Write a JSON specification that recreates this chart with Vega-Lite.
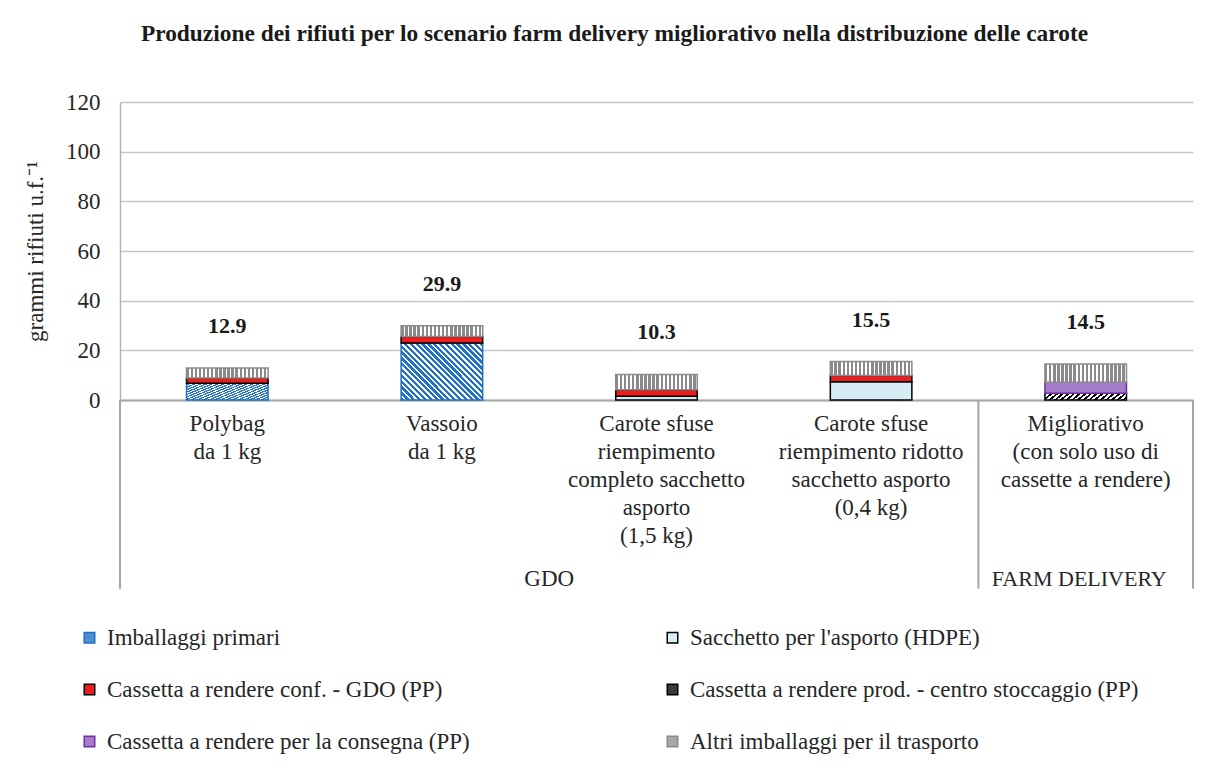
{
  "$schema": "https://vega.github.io/schema/vega-lite/v6.json",
  "width": 1073,
  "height": 298,
  "autosize": "none",
  "padding": {"left": 120, "top": 102, "right": 29, "bottom": 374},
  "background": "white",
  "config": {
    "font": "Liberation Serif",
    "view": {"stroke": null},
    "axis": {"labelFont": "Liberation Serif", "titleFont": "Liberation Serif"},
    "legend": {"labelFont": "Liberation Serif", "titleFont": "Liberation Serif"},
    "text": {"font": "Liberation Serif"},
    "mark": {"font": "Liberation Serif"}
  },
  "title": {
    "text": "Produzione dei rifiuti per lo scenario farm delivery migliorativo nella distribuzione delle carote",
    "fontSize": 23.4, "fontWeight": "bold", "font": "Liberation Serif", "color": "#1a1a1a",
    "anchor": "middle", "frame": "group", "dx": -42, "offset": 27, "baseline": "alphabetic"
  },
  "datasets": {
    "barre": [
      {"scenario": "Polybag|da 1 kg", "componente": "Imballaggi primari", "valore": 6.7},
      {"scenario": "Polybag|da 1 kg", "componente": "Cassetta a rendere conf. - GDO (PP)", "valore": 2.2},
      {"scenario": "Polybag|da 1 kg", "componente": "Altri imballaggi per il trasporto", "valore": 4.0},
      {"scenario": "Vassoio|da 1 kg", "componente": "Imballaggi primari", "valore": 23.0},
      {"scenario": "Vassoio|da 1 kg", "componente": "Cassetta a rendere conf. - GDO (PP)", "valore": 2.6},
      {"scenario": "Vassoio|da 1 kg", "componente": "Altri imballaggi per il trasporto", "valore": 4.3},
      {"scenario": "Carote sfuse|riempimento|completo sacchetto|asporto|(1,5 kg)", "componente": "Sacchetto per l'asporto (HDPE)", "valore": 1.5},
      {"scenario": "Carote sfuse|riempimento|completo sacchetto|asporto|(1,5 kg)", "componente": "Cassetta a rendere conf. - GDO (PP)", "valore": 2.6},
      {"scenario": "Carote sfuse|riempimento|completo sacchetto|asporto|(1,5 kg)", "componente": "Altri imballaggi per il trasporto", "valore": 6.2},
      {"scenario": "Carote sfuse|riempimento ridotto|sacchetto asporto|(0,4 kg)", "componente": "Sacchetto per l'asporto (HDPE)", "valore": 7.3},
      {"scenario": "Carote sfuse|riempimento ridotto|sacchetto asporto|(0,4 kg)", "componente": "Cassetta a rendere conf. - GDO (PP)", "valore": 2.6},
      {"scenario": "Carote sfuse|riempimento ridotto|sacchetto asporto|(0,4 kg)", "componente": "Altri imballaggi per il trasporto", "valore": 5.6},
      {"scenario": "Migliorativo|(con solo uso di|cassette a rendere)", "componente": "Cassetta a rendere prod. - centro  stoccaggio (PP)", "valore": 2.7},
      {"scenario": "Migliorativo|(con solo uso di|cassette a rendere)", "componente": "Cassetta a rendere per la consegna (PP)", "valore": 4.4},
      {"scenario": "Migliorativo|(con solo uso di|cassette a rendere)", "componente": "Altri imballaggi per il trasporto", "valore": 7.4}
    ]
  },
  "layer": [
    {
      "data": {"name": "barre"},
      "mark": {"type": "bar", "width": {"band": 0.38}, "strokeWidth": 1.5},
      "encoding": {
        "x": {"field": "scenario", "type": "nominal", "sort": null, "title": null,
          "scale": {"domain": ["Polybag|da 1 kg", "Vassoio|da 1 kg", "Carote sfuse|riempimento|completo sacchetto|asporto|(1,5 kg)", "Carote sfuse|riempimento ridotto|sacchetto asporto|(0,4 kg)", "Migliorativo|(con solo uso di|cassette a rendere)"], "paddingInner": 0, "paddingOuter": 0},
          "axis": {"labelExpr": "split(datum.label, '|')", "labelAngle": 0, "labelFont": "Liberation Serif", "labelFontSize": 23, "labelLineHeight": 28, "labelPadding": 12, "labelColor": "#262626", "labelLimit": 400, "ticks": false, "domainColor": "#a6a6a6", "domainWidth": 2, "grid": false}},
        "y": {"field": "valore", "type": "quantitative", "stack": "zero", "title": "grammi rifiuti u.f.⁻¹",
          "scale": {"domain": [0, 120], "nice": false},
          "axis": {"values": [0, 20, 40, 60, 80, 100, 120], "ticks": false, "labelFont": "Liberation Serif", "labelFontSize": 23, "labelPadding": 20, "labelColor": "#262626", "grid": true, "gridColor": "#c6c6c6", "gridWidth": 1.5, "domainColor": "#b3b3b3", "domainWidth": 1.5, "titleFont": "Liberation Serif", "titleFontSize": 23, "titleFontWeight": "normal", "titleColor": "#262626", "titlePadding": 18}},
        "order": {"field": "componente", "sort": "descending"},
        "fill": {"field": "componente", "type": "nominal",
          "sort": ["Imballaggi primari", "Cassetta a rendere conf. - GDO (PP)", "Cassetta a rendere per la consegna (PP)", "Sacchetto per l'asporto (HDPE)", "Cassetta a rendere prod. - centro  stoccaggio (PP)", "Altri imballaggi per il trasporto"],
          "scale": {"domain": ["Imballaggi primari", "Cassetta a rendere conf. - GDO (PP)", "Cassetta a rendere per la consegna (PP)", "Sacchetto per l'asporto (HDPE)", "Cassetta a rendere prod. - centro  stoccaggio (PP)", "Altri imballaggi per il trasporto"],
            "range": ["#4d8fd4", "#f01c1c", "#a47cc9", "#d6edf4", "#3a3a3a", "#a8a8a8"]},
          "condition": [
            {"test": "datum.componente === 'Imballaggi primari'", "value": {"gradient": "linear", "x1": 0, "y1": 1, "x2": 1.2, "y2": 0.16, "stops": [
                {"offset": 0, "color": "#2173c6"}, {"offset": 0.022, "color": "#2173c6"}, {"offset": 0.022, "color": "#ffffff"}, {"offset": 0.04, "color": "#ffffff"},
                {"offset": 0.04, "color": "#2173c6"}, {"offset": 0.062, "color": "#2173c6"}, {"offset": 0.062, "color": "#ffffff"}, {"offset": 0.08, "color": "#ffffff"},
                {"offset": 0.08, "color": "#2173c6"}, {"offset": 0.102, "color": "#2173c6"}, {"offset": 0.102, "color": "#ffffff"}, {"offset": 0.12, "color": "#ffffff"},
                {"offset": 0.12, "color": "#2173c6"}, {"offset": 0.142, "color": "#2173c6"}, {"offset": 0.142, "color": "#ffffff"}, {"offset": 0.16, "color": "#ffffff"},
                {"offset": 0.16, "color": "#2173c6"}, {"offset": 0.182, "color": "#2173c6"}, {"offset": 0.182, "color": "#ffffff"}, {"offset": 0.2, "color": "#ffffff"},
                {"offset": 0.2, "color": "#2173c6"}, {"offset": 0.222, "color": "#2173c6"}, {"offset": 0.222, "color": "#ffffff"}, {"offset": 0.24, "color": "#ffffff"},
                {"offset": 0.24, "color": "#2173c6"}, {"offset": 0.262, "color": "#2173c6"}, {"offset": 0.262, "color": "#ffffff"}, {"offset": 0.28, "color": "#ffffff"},
                {"offset": 0.28, "color": "#2173c6"}, {"offset": 0.302, "color": "#2173c6"}, {"offset": 0.302, "color": "#ffffff"}, {"offset": 0.32, "color": "#ffffff"},
                {"offset": 0.32, "color": "#2173c6"}, {"offset": 0.342, "color": "#2173c6"}, {"offset": 0.342, "color": "#ffffff"}, {"offset": 0.36, "color": "#ffffff"},
                {"offset": 0.36, "color": "#2173c6"}, {"offset": 0.382, "color": "#2173c6"}, {"offset": 0.382, "color": "#ffffff"}, {"offset": 0.4, "color": "#ffffff"},
                {"offset": 0.4, "color": "#2173c6"}, {"offset": 0.422, "color": "#2173c6"}, {"offset": 0.422, "color": "#ffffff"}, {"offset": 0.44, "color": "#ffffff"},
                {"offset": 0.44, "color": "#2173c6"}, {"offset": 0.462, "color": "#2173c6"}, {"offset": 0.462, "color": "#ffffff"}, {"offset": 0.48, "color": "#ffffff"},
                {"offset": 0.48, "color": "#2173c6"}, {"offset": 0.502, "color": "#2173c6"}, {"offset": 0.502, "color": "#ffffff"}, {"offset": 0.52, "color": "#ffffff"},
                {"offset": 0.52, "color": "#2173c6"}, {"offset": 0.542, "color": "#2173c6"}, {"offset": 0.542, "color": "#ffffff"}, {"offset": 0.56, "color": "#ffffff"},
                {"offset": 0.56, "color": "#2173c6"}, {"offset": 0.582, "color": "#2173c6"}, {"offset": 0.582, "color": "#ffffff"}, {"offset": 0.6, "color": "#ffffff"},
                {"offset": 0.6, "color": "#2173c6"}, {"offset": 0.622, "color": "#2173c6"}, {"offset": 0.622, "color": "#ffffff"}, {"offset": 0.64, "color": "#ffffff"},
                {"offset": 0.64, "color": "#2173c6"}, {"offset": 0.662, "color": "#2173c6"}, {"offset": 0.662, "color": "#ffffff"}, {"offset": 0.68, "color": "#ffffff"},
                {"offset": 0.68, "color": "#2173c6"}, {"offset": 0.702, "color": "#2173c6"}, {"offset": 0.702, "color": "#ffffff"}, {"offset": 0.72, "color": "#ffffff"},
                {"offset": 0.72, "color": "#2173c6"}, {"offset": 0.742, "color": "#2173c6"}, {"offset": 0.742, "color": "#ffffff"}, {"offset": 0.76, "color": "#ffffff"},
                {"offset": 0.76, "color": "#2173c6"}, {"offset": 0.782, "color": "#2173c6"}, {"offset": 0.782, "color": "#ffffff"}, {"offset": 0.8, "color": "#ffffff"},
                {"offset": 0.8, "color": "#2173c6"}, {"offset": 0.822, "color": "#2173c6"}, {"offset": 0.822, "color": "#ffffff"}, {"offset": 0.84, "color": "#ffffff"},
                {"offset": 0.84, "color": "#2173c6"}, {"offset": 0.862, "color": "#2173c6"}, {"offset": 0.862, "color": "#ffffff"}, {"offset": 0.88, "color": "#ffffff"},
                {"offset": 0.88, "color": "#2173c6"}, {"offset": 0.902, "color": "#2173c6"}, {"offset": 0.902, "color": "#ffffff"}, {"offset": 0.92, "color": "#ffffff"},
                {"offset": 0.92, "color": "#2173c6"}, {"offset": 0.942, "color": "#2173c6"}, {"offset": 0.942, "color": "#ffffff"}, {"offset": 0.96, "color": "#ffffff"},
                {"offset": 0.96, "color": "#2173c6"}, {"offset": 0.982, "color": "#2173c6"}, {"offset": 0.982, "color": "#ffffff"}, {"offset": 1, "color": "#ffffff"}
              ]}},
            {"test": "datum.componente === 'Cassetta a rendere prod. - centro  stoccaggio (PP)'", "value": {"gradient": "linear", "x1": 0, "y1": 0, "x2": 1.1, "y2": 0.11, "stops": [
                {"offset": 0, "color": "#000000"}, {"offset": 0.03, "color": "#000000"}, {"offset": 0.03, "color": "#ffffff"}, {"offset": 0.0625, "color": "#ffffff"},
                {"offset": 0.0625, "color": "#000000"}, {"offset": 0.0925, "color": "#000000"}, {"offset": 0.0925, "color": "#ffffff"}, {"offset": 0.125, "color": "#ffffff"},
                {"offset": 0.125, "color": "#000000"}, {"offset": 0.155, "color": "#000000"}, {"offset": 0.155, "color": "#ffffff"}, {"offset": 0.1875, "color": "#ffffff"},
                {"offset": 0.1875, "color": "#000000"}, {"offset": 0.2175, "color": "#000000"}, {"offset": 0.2175, "color": "#ffffff"}, {"offset": 0.25, "color": "#ffffff"},
                {"offset": 0.25, "color": "#000000"}, {"offset": 0.28, "color": "#000000"}, {"offset": 0.28, "color": "#ffffff"}, {"offset": 0.3125, "color": "#ffffff"},
                {"offset": 0.3125, "color": "#000000"}, {"offset": 0.3425, "color": "#000000"}, {"offset": 0.3425, "color": "#ffffff"}, {"offset": 0.375, "color": "#ffffff"},
                {"offset": 0.375, "color": "#000000"}, {"offset": 0.405, "color": "#000000"}, {"offset": 0.405, "color": "#ffffff"}, {"offset": 0.4375, "color": "#ffffff"},
                {"offset": 0.4375, "color": "#000000"}, {"offset": 0.4675, "color": "#000000"}, {"offset": 0.4675, "color": "#ffffff"}, {"offset": 0.5, "color": "#ffffff"},
                {"offset": 0.5, "color": "#000000"}, {"offset": 0.53, "color": "#000000"}, {"offset": 0.53, "color": "#ffffff"}, {"offset": 0.5625, "color": "#ffffff"},
                {"offset": 0.5625, "color": "#000000"}, {"offset": 0.5925, "color": "#000000"}, {"offset": 0.5925, "color": "#ffffff"}, {"offset": 0.625, "color": "#ffffff"},
                {"offset": 0.625, "color": "#000000"}, {"offset": 0.655, "color": "#000000"}, {"offset": 0.655, "color": "#ffffff"}, {"offset": 0.6875, "color": "#ffffff"},
                {"offset": 0.6875, "color": "#000000"}, {"offset": 0.7175, "color": "#000000"}, {"offset": 0.7175, "color": "#ffffff"}, {"offset": 0.75, "color": "#ffffff"},
                {"offset": 0.75, "color": "#000000"}, {"offset": 0.78, "color": "#000000"}, {"offset": 0.78, "color": "#ffffff"}, {"offset": 0.8125, "color": "#ffffff"},
                {"offset": 0.8125, "color": "#000000"}, {"offset": 0.8425, "color": "#000000"}, {"offset": 0.8425, "color": "#ffffff"}, {"offset": 0.875, "color": "#ffffff"},
                {"offset": 0.875, "color": "#000000"}, {"offset": 0.905, "color": "#000000"}, {"offset": 0.905, "color": "#ffffff"}, {"offset": 0.9375, "color": "#ffffff"},
                {"offset": 0.9375, "color": "#000000"}, {"offset": 0.9675, "color": "#000000"}, {"offset": 0.9675, "color": "#ffffff"}, {"offset": 1, "color": "#ffffff"}
              ]}},
            {"test": "datum.componente === 'Altri imballaggi per il trasporto'", "value": {"gradient": "linear", "x1": 0, "y1": 0, "x2": 1, "y2": 0, "stops": [
                {"offset": 0, "color": "#8a8a8a"}, {"offset": 0.03, "color": "#8a8a8a"}, {"offset": 0.03, "color": "#ffffff"}, {"offset": 0.05, "color": "#ffffff"},
                {"offset": 0.05, "color": "#8a8a8a"}, {"offset": 0.08, "color": "#8a8a8a"}, {"offset": 0.08, "color": "#ffffff"}, {"offset": 0.1, "color": "#ffffff"},
                {"offset": 0.1, "color": "#8a8a8a"}, {"offset": 0.13, "color": "#8a8a8a"}, {"offset": 0.13, "color": "#ffffff"}, {"offset": 0.15, "color": "#ffffff"},
                {"offset": 0.15, "color": "#8a8a8a"}, {"offset": 0.18, "color": "#8a8a8a"}, {"offset": 0.18, "color": "#ffffff"}, {"offset": 0.2, "color": "#ffffff"},
                {"offset": 0.2, "color": "#8a8a8a"}, {"offset": 0.23, "color": "#8a8a8a"}, {"offset": 0.23, "color": "#ffffff"}, {"offset": 0.25, "color": "#ffffff"},
                {"offset": 0.25, "color": "#8a8a8a"}, {"offset": 0.28, "color": "#8a8a8a"}, {"offset": 0.28, "color": "#ffffff"}, {"offset": 0.3, "color": "#ffffff"},
                {"offset": 0.3, "color": "#8a8a8a"}, {"offset": 0.33, "color": "#8a8a8a"}, {"offset": 0.33, "color": "#ffffff"}, {"offset": 0.35, "color": "#ffffff"},
                {"offset": 0.35, "color": "#8a8a8a"}, {"offset": 0.38, "color": "#8a8a8a"}, {"offset": 0.38, "color": "#ffffff"}, {"offset": 0.4, "color": "#ffffff"},
                {"offset": 0.4, "color": "#8a8a8a"}, {"offset": 0.43, "color": "#8a8a8a"}, {"offset": 0.43, "color": "#ffffff"}, {"offset": 0.45, "color": "#ffffff"},
                {"offset": 0.45, "color": "#8a8a8a"}, {"offset": 0.48, "color": "#8a8a8a"}, {"offset": 0.48, "color": "#ffffff"}, {"offset": 0.5, "color": "#ffffff"},
                {"offset": 0.5, "color": "#8a8a8a"}, {"offset": 0.53, "color": "#8a8a8a"}, {"offset": 0.53, "color": "#ffffff"}, {"offset": 0.55, "color": "#ffffff"},
                {"offset": 0.55, "color": "#8a8a8a"}, {"offset": 0.58, "color": "#8a8a8a"}, {"offset": 0.58, "color": "#ffffff"}, {"offset": 0.6, "color": "#ffffff"},
                {"offset": 0.6, "color": "#8a8a8a"}, {"offset": 0.63, "color": "#8a8a8a"}, {"offset": 0.63, "color": "#ffffff"}, {"offset": 0.65, "color": "#ffffff"},
                {"offset": 0.65, "color": "#8a8a8a"}, {"offset": 0.68, "color": "#8a8a8a"}, {"offset": 0.68, "color": "#ffffff"}, {"offset": 0.7, "color": "#ffffff"},
                {"offset": 0.7, "color": "#8a8a8a"}, {"offset": 0.73, "color": "#8a8a8a"}, {"offset": 0.73, "color": "#ffffff"}, {"offset": 0.75, "color": "#ffffff"},
                {"offset": 0.75, "color": "#8a8a8a"}, {"offset": 0.78, "color": "#8a8a8a"}, {"offset": 0.78, "color": "#ffffff"}, {"offset": 0.8, "color": "#ffffff"},
                {"offset": 0.8, "color": "#8a8a8a"}, {"offset": 0.83, "color": "#8a8a8a"}, {"offset": 0.83, "color": "#ffffff"}, {"offset": 0.85, "color": "#ffffff"},
                {"offset": 0.85, "color": "#8a8a8a"}, {"offset": 0.88, "color": "#8a8a8a"}, {"offset": 0.88, "color": "#ffffff"}, {"offset": 0.9, "color": "#ffffff"},
                {"offset": 0.9, "color": "#8a8a8a"}, {"offset": 0.93, "color": "#8a8a8a"}, {"offset": 0.93, "color": "#ffffff"}, {"offset": 0.95, "color": "#ffffff"},
                {"offset": 0.95, "color": "#8a8a8a"}, {"offset": 0.98, "color": "#8a8a8a"}, {"offset": 0.98, "color": "#ffffff"}, {"offset": 1, "color": "#ffffff"}
              ]}}
          ],
          "legend": {"title": null, "orient": "none", "legendX": -42, "legendY": 524, "columns": 2, "columnPadding": 191, "rowPadding": 28, "labelFontSize": 23, "labelFont": "Liberation Serif", "labelColor": "#262626", "symbolType": "square", "symbolSize": 110, "symbolStrokeWidth": 1.5, "labelOffset": 6, "labelLimit": 600}},
        "stroke": {"field": "componente", "type": "nominal",
          "sort": ["Imballaggi primari", "Cassetta a rendere conf. - GDO (PP)", "Cassetta a rendere per la consegna (PP)", "Sacchetto per l'asporto (HDPE)", "Cassetta a rendere prod. - centro  stoccaggio (PP)", "Altri imballaggi per il trasporto"],
          "scale": {"domain": ["Imballaggi primari", "Cassetta a rendere conf. - GDO (PP)", "Cassetta a rendere per la consegna (PP)", "Sacchetto per l'asporto (HDPE)", "Cassetta a rendere prod. - centro  stoccaggio (PP)", "Altri imballaggi per il trasporto"],
            "range": ["#1f6fbf", "#000000", "#7030a0", "#000000", "#000000", "#8a8a8a"]},
          "legend": {"title": null, "orient": "none", "legendX": -42, "legendY": 524, "columns": 2, "columnPadding": 191, "rowPadding": 28, "labelFontSize": 23, "labelFont": "Liberation Serif", "labelColor": "#262626", "symbolType": "square", "symbolSize": 110, "symbolStrokeWidth": 1.5, "labelOffset": 6, "labelLimit": 600}}
      }
    },
    {
      "data": {"name": "barre"},
      "transform": [{"aggregate": [{"op": "sum", "field": "valore", "as": "totale"}], "groupby": ["scenario"]}],
      "mark": {"type": "text", "font": "Liberation Serif", "fontSize": 22, "fontWeight": "bold", "dy": -42, "baseline": "middle", "color": "#1a1a1a"},
      "encoding": {
        "x": {"field": "scenario", "type": "nominal", "sort": null, "title": null,
          "scale": {"domain": ["Polybag|da 1 kg", "Vassoio|da 1 kg", "Carote sfuse|riempimento|completo sacchetto|asporto|(1,5 kg)", "Carote sfuse|riempimento ridotto|sacchetto asporto|(0,4 kg)", "Migliorativo|(con solo uso di|cassette a rendere)"], "paddingInner": 0, "paddingOuter": 0}},
        "y": {"field": "totale", "type": "quantitative", "title": "grammi rifiuti u.f.⁻¹", "scale": {"domain": [0, 120], "nice": false}},
        "text": {"field": "totale", "type": "quantitative", "format": ".1f"}
      }
    },
    {
      "data": {"values": [{"scenario": "Polybag|da 1 kg"}, {"scenario": "Migliorativo|(con solo uso di|cassette a rendere)"}]},
      "mark": {"type": "rule", "color": "#a6a6a6", "strokeWidth": 2},
      "encoding": {
        "x": {"field": "scenario", "type": "nominal", "sort": null, "title": null, "bandPosition": 0,
          "scale": {"domain": ["Polybag|da 1 kg", "Vassoio|da 1 kg", "Carote sfuse|riempimento|completo sacchetto|asporto|(1,5 kg)", "Carote sfuse|riempimento ridotto|sacchetto asporto|(0,4 kg)", "Migliorativo|(con solo uso di|cassette a rendere)"], "paddingInner": 0, "paddingOuter": 0}},
        "y": {"datum": 0, "type": "quantitative"},
        "y2": {"datum": -76}
      }
    },
    {
      "data": {"values": [{"scenario": "Migliorativo|(con solo uso di|cassette a rendere)"}]},
      "mark": {"type": "rule", "color": "#a6a6a6", "strokeWidth": 2},
      "encoding": {
        "x": {"field": "scenario", "type": "nominal", "sort": null, "title": null, "bandPosition": 1,
          "scale": {"domain": ["Polybag|da 1 kg", "Vassoio|da 1 kg", "Carote sfuse|riempimento|completo sacchetto|asporto|(1,5 kg)", "Carote sfuse|riempimento ridotto|sacchetto asporto|(0,4 kg)", "Migliorativo|(con solo uso di|cassette a rendere)"], "paddingInner": 0, "paddingOuter": 0}},
        "y": {"datum": 0, "type": "quantitative"},
        "y2": {"datum": -76}
      }
    },
    {
      "data": {"values": [{"scenario": "Carote sfuse|riempimento|completo sacchetto|asporto|(1,5 kg)", "gruppo": "GDO"}]},
      "mark": {"type": "text", "font": "Liberation Serif", "fontSize": 23, "baseline": "middle", "color": "#262626"},
      "encoding": {
        "x": {"field": "scenario", "type": "nominal", "sort": null, "title": null, "bandPosition": 0,
          "scale": {"domain": ["Polybag|da 1 kg", "Vassoio|da 1 kg", "Carote sfuse|riempimento|completo sacchetto|asporto|(1,5 kg)", "Carote sfuse|riempimento ridotto|sacchetto asporto|(0,4 kg)", "Migliorativo|(con solo uso di|cassette a rendere)"], "paddingInner": 0, "paddingOuter": 0}},
        "y": {"datum": -72, "type": "quantitative"},
        "text": {"field": "gruppo", "type": "nominal"}
      }
    },
    {
      "data": {"values": [{"scenario": "Migliorativo|(con solo uso di|cassette a rendere)", "gruppo": "FARM DELIVERY"}]},
      "mark": {"type": "text", "font": "Liberation Serif", "fontSize": 22, "baseline": "middle", "color": "#262626"},
      "encoding": {
        "x": {"field": "scenario", "type": "nominal", "sort": null, "title": null, "bandPosition": 0.47,
          "scale": {"domain": ["Polybag|da 1 kg", "Vassoio|da 1 kg", "Carote sfuse|riempimento|completo sacchetto|asporto|(1,5 kg)", "Carote sfuse|riempimento ridotto|sacchetto asporto|(0,4 kg)", "Migliorativo|(con solo uso di|cassette a rendere)"], "paddingInner": 0, "paddingOuter": 0}},
        "y": {"datum": -72, "type": "quantitative"},
        "text": {"field": "gruppo", "type": "nominal"}
      }
    }
  ]
}
